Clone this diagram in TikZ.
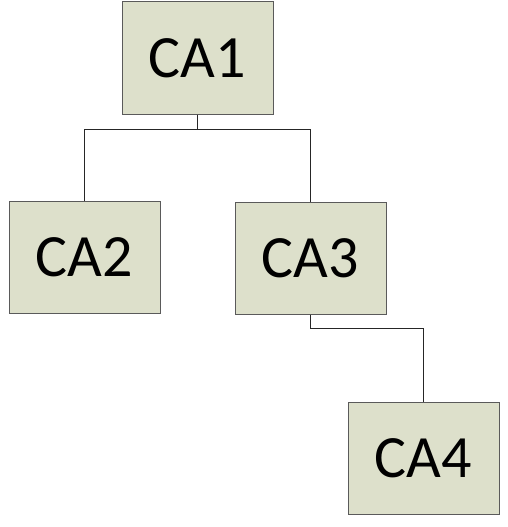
\documentclass[tikz,border=0pt]{standalone}
\usepackage{fontspec}
\setmainfont{Carlito}
\definecolor{boxfill}{HTML}{DDE0CB}
\definecolor{boxline}{HTML}{5A5A5A}
\tikzset{
  % certificate authority boxes
  cabox/.style={rectangle, draw=boxline, fill=boxfill, line width=1pt,
    minimum width=151pt, minimum height=112pt, inner sep=0pt,
    font=\fontsize{60}{60}\selectfont},
  link/.style={line width=0.8pt, black!85}
}

\begin{document}
\begin{tikzpicture}[x=1pt, y=-1pt]
\useasboundingbox (0,0) rectangle (508,527);

% Boxes
\node[cabox] (ca1) at (197.5, 58) {CA1};
\node[cabox] (ca2) at ( 84.5,257) {CA2};
\node[cabox] (ca3) at (310.5,258) {CA3};
\node[cabox] (ca4) at (423.5,458) {CA4};

% Links
\draw[link] (ca1.south) -- ++(0,15) -| (ca2.north);
\draw[link] (ca1.south) -- ++(0,15) -| (ca3.north);
\draw[link] (ca3.south) -- ++(0,14) -| (ca4.north);

\end{tikzpicture}
\end{document}
